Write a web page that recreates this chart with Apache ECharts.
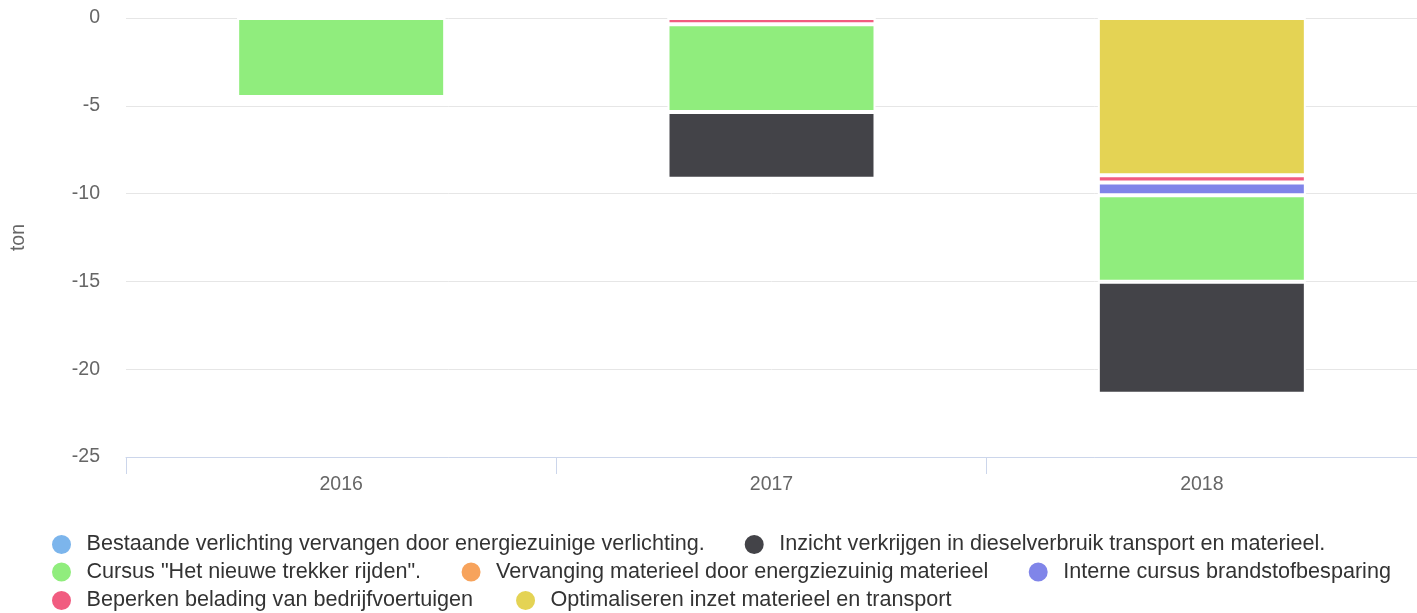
<!DOCTYPE html>
<html><head><meta charset="utf-8">
<script src="https://cdn.jsdelivr.net/npm/echarts@6/dist/echarts.min.js"></script>
<style>html,body{margin:0;padding:0;background:#fff}#c{width:1417px;height:613px}</style>
</head><body><div id="c"></div>
<script>
var categories = ['2016', '2017', '2018'];
var yTicks = [0, -5, -10, -15, -20, -25];
var nameBestaande = 'Bestaande verlichting vervangen door energiezuinige verlichting.';
var nameInzicht = 'Inzicht verkrijgen in dieselverbruik transport en materieel.';
var nameCursus = 'Cursus "Het nieuwe trekker rijden".';
var nameVervanging = 'Vervanging materieel door energziezuinig materieel';
var nameInterne = 'Interne cursus brandstofbesparing';
var nameBeperken = 'Beperken belading van bedrijfvoertuigen';
var nameOptimaliseren = 'Optimaliseren inzet materieel en transport';

var valBestaande = [0, 0, 0];
var valInzicht = [0, -3.8, -6.38];
var valCursus = [-4.5, -5.0, -4.93];
var valVervanging = [0, 0, 0];
var valInterne = [0, 0, -0.72];
var valBeperken = [0, -0.35, -0.42];
var valOptimaliseren = [0, 0, -8.95];

var colors = {
  b: '#7cb5ec', i: '#434348', c: '#90ed7d', v: '#f7a35c', n: '#8085e9', p: '#f15c80', o: '#e4d354'
};
var FONT = 'Liberation Sans, Arial, Helvetica, sans-serif';

function bar(name, data, color) {
  return {
    name: name, type: 'bar', stack: 'total', data: data, barWidth: 208,
    itemStyle: { color: color, borderColor: '#ffffff', borderWidth: 2 },
    emphasis: { disabled: true }
  };
}

// stacking order: first series nearest zero
var series = [
  bar(nameOptimaliseren, valOptimaliseren, colors.o),
  bar(nameBeperken, valBeperken, colors.p),
  bar(nameInterne, valInterne, colors.n),
  bar(nameVervanging, valVervanging, colors.v),
  bar(nameCursus, valCursus, colors.c),
  bar(nameInzicht, valInzicht, colors.i),
  bar(nameBestaande, valBestaande, colors.b)
];

function legendRow(top, names, gap) {
  return {
    left: 50, top: top, orient: 'horizontal', icon: 'circle', padding: 0,
    itemWidth: 40, itemHeight: 21, itemGap: gap, symbolKeepAspect: true,
    selectedMode: false,
    textStyle: { fontFamily: FONT, fontSize: 21.6, color: '#333333' },
    data: names
  };
}

var chart = echarts.init(document.getElementById('c'));
chart.setOption({
  animation: false,
  color: [colors.o, colors.p, colors.n, colors.v, colors.c, colors.i, colors.b],
  grid: { left: 126, right: 0, top: 18, bottom: 156, containLabel: false },
  legend: [
    legendRow(533, [nameBestaande, nameInzicht], 38),
    legendRow(560.5, [nameCursus, nameVervanging, nameInterne], 38.5),
    legendRow(589, [nameBeperken, nameOptimaliseren], 41)
  ],
  xAxis: {
    type: 'category', data: categories, position: 'bottom',
    axisLine: { onZero: false, lineStyle: { color: '#ccd6eb', width: 1 } },
    axisTick: { show: true, length: 17, lineStyle: { color: '#ccd6eb' } },
    axisLabel: { margin: 18, fontFamily: FONT, fontSize: 19.5, color: '#666666' }
  },
  yAxis: {
    type: 'value', min: yTicks[yTicks.length - 1], max: yTicks[0], interval: 5,
    name: 'ton', nameLocation: 'middle', nameGap: 97, nameRotate: 90,
    nameTextStyle: { fontFamily: FONT, fontSize: 19.5, color: '#666666' },
    axisLine: { show: false }, axisTick: { show: false },
    axisLabel: { margin: 26, fontFamily: FONT, fontSize: 19.5, color: '#666666' },
    splitLine: { lineStyle: { color: '#e6e6e6', width: 1 } }
  },
  series: series
});
</script></body></html>
